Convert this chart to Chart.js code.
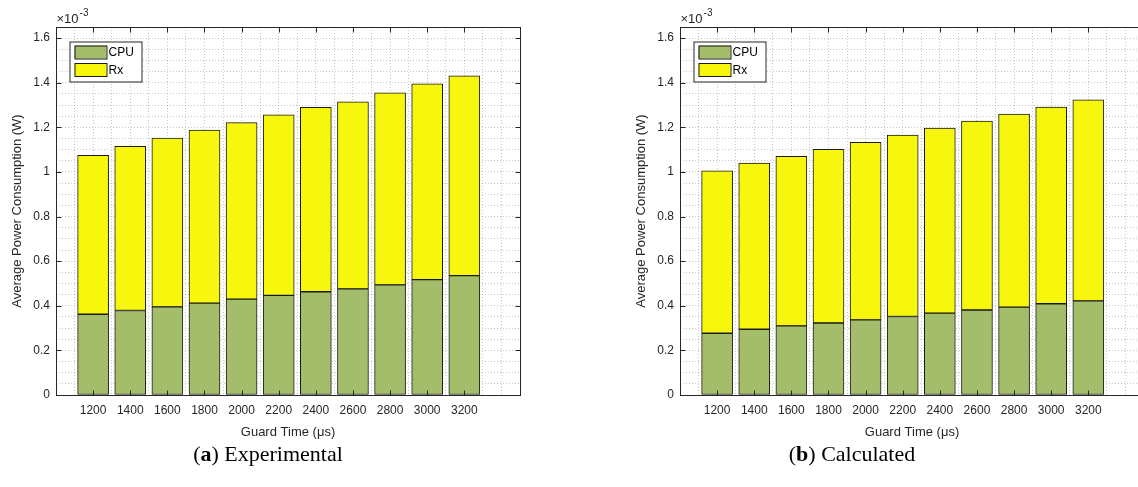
<!DOCTYPE html>
<html>
<head>
<meta charset="utf-8">
<script src="https://cdn.jsdelivr.net/npm/chart.js@4"></script>
<style>
  body { margin: 0; background: #fff; width: 1138px; height: 487px; overflow: hidden; position: relative; }
  .plot { position: absolute; top: 0; }
  .caption { position: absolute; top: 441px; font-family: "Liberation Serif", "DejaVu Serif", serif; font-size: 22px; color: #000; transform: translateX(-50%); white-space: nowrap; }
</style>
</head>
<body>
<canvas id="expChart" class="plot" width="560" height="445" style="left:0px"></canvas>
<canvas id="calcChart" class="plot" width="560" height="445" style="left:624px"></canvas>
<div class="caption" style="left:268px">(<b>a</b>) Experimental</div>
<div class="caption" style="left:852px">(<b>b</b>) Calculated</div>
<script>
// guard times (x categories)
const guardTimes = ['1200', '1400', '1600', '1800', '2000', '2200', '2400', '2600', '2800', '3000', '3200'];

// values in units of 1e-3 W
const cpuExperimental = [0.362, 0.379, 0.395, 0.412, 0.430, 0.447, 0.463, 0.476, 0.494, 0.517, 0.535];
const rxExperimental  = [0.713, 0.736, 0.757, 0.776, 0.791, 0.809, 0.827, 0.839, 0.861, 0.878, 0.896];
const cpuCalculated   = [0.277, 0.295, 0.310, 0.323, 0.337, 0.352, 0.367, 0.381, 0.394, 0.409, 0.422];
const rxCalculated    = [0.728, 0.745, 0.760, 0.778, 0.796, 0.813, 0.830, 0.847, 0.866, 0.882, 0.901];

const seriesNames = ['CPU', 'Rx'];
const yMajorStep = 0.2;

const axisColor = '#262626';
const gridColor = 'rgba(0,0,0,0.22)';
const sans = '"Liberation Sans", Arial, Helvetica, sans-serif';

function isMajorY(v) {
  return Math.abs(v / yMajorStep - Math.round(v / yMajorStep)) < 1e-6;
}
function isCategoryX(v) {
  return Number.isInteger(v) && v >= 1 && v <= guardTimes.length;
}

// MATLAB-style box, inward ticks, exponent label and framed legend
const matlabFrame = {
  id: 'matlabFrame',
  afterDatasetsDraw(chart) {
    const { ctx, chartArea: a, scales } = chart;
    const L = Math.round(a.left) + 0.5, R = Math.round(a.right) + 0.5;
    const T = Math.round(a.top) + 0.5, B = Math.round(a.bottom) + 0.5;
    ctx.save();
    ctx.strokeStyle = axisColor;
    ctx.lineWidth = 1;
    ctx.beginPath();
    scales.x.ticks.forEach(t => {
      if (!isCategoryX(t.value)) return;
      const px = Math.round(scales.x.getPixelForValue(t.value)) + 0.5;
      ctx.moveTo(px, T); ctx.lineTo(px, T + 5);
      ctx.moveTo(px, B); ctx.lineTo(px, B - 5);
    });
    scales.y.ticks.forEach(t => {
      if (!isMajorY(t.value)) return;
      const py = Math.round(scales.y.getPixelForValue(t.value)) + 0.5;
      ctx.moveTo(L, py); ctx.lineTo(L + 5, py);
      ctx.moveTo(R, py); ctx.lineTo(R - 5, py);
    });
    ctx.stroke();
    ctx.strokeRect(L, T, R - L, B - T);

    // exponent
    ctx.fillStyle = axisColor;
    ctx.textBaseline = 'alphabetic';
    ctx.font = '13px ' + sans;
    ctx.fillText('\u00d710', L, T - 5);
    const w = ctx.measureText('\u00d710').width;
    ctx.font = '10px ' + sans;
    ctx.fillText('-3', L + w + 1, T - 12);

    // legend
    const lx = L + 13, ly = T + 14;
    ctx.fillStyle = '#fff';
    ctx.fillRect(lx, ly, 72, 40);
    ctx.strokeStyle = axisColor;
    ctx.strokeRect(lx + 0.5, ly + 0.5, 72, 40);
    chart.data.datasets.forEach((ds, i) => {
      const sy = ly + 4 + i * 17.5;
      ctx.fillStyle = ds.backgroundColor;
      ctx.fillRect(lx + 5, sy, 32, 13);
      ctx.strokeStyle = ds.borderColor;
      ctx.strokeRect(lx + 5.5, sy + 0.5, 32, 13);
      ctx.fillStyle = '#000';
      ctx.font = '12px ' + sans;
      ctx.textBaseline = 'middle';
      ctx.fillText(ds.label, lx + 39, sy + 7.5);
    });
    ctx.restore();
  }
};

function makeChart(id, cpu, rx) {
  const toPoints = vals => vals.map((v, i) => ({ x: i + 1, y: v }));
  return new Chart(document.getElementById(id), {
    type: 'bar',
    data: {
      datasets: [
        { label: seriesNames[0], data: toPoints(cpu), backgroundColor: '#a4bd6a', borderColor: '#1a1a1a', borderWidth: 1, borderSkipped: false },
        { label: seriesNames[1], data: toPoints(rx), backgroundColor: '#f7f70e', borderColor: '#1a1a1a', borderWidth: 1, borderSkipped: false }
      ]
    },
    options: {
      responsive: false,
      animation: false,
      layout: { padding: { top: 27, right: 40, left: 0, bottom: 0 } },
      datasets: { bar: { barThickness: 31 } },
      plugins: { legend: { display: false }, tooltip: { enabled: false } },
      scales: {
        x: {
          type: 'linear', stacked: true, min: 0, max: 12.5, offset: false,
          afterFit: s => { s.height = 50; },
          ticks: {
            stepSize: 0.5, autoSkip: false, maxRotation: 0, padding: 8, maxTicksLimit: 100,
            color: axisColor, font: { family: sans, size: 12 },
            callback: v => isCategoryX(v) ? guardTimes[v - 1] : ''
          },
          grid: { color: gridColor, drawTicks: false, offset: false },
          border: { display: false, dash: [1, 2] },
          title: { display: true, text: 'Guard Time (\u03bcs)', color: axisColor, font: { family: sans, size: 13 }, padding: { top: 0, bottom: 5 } }
        },
        y: {
          stacked: true, min: 0, max: 1.65,
          afterFit: s => { s.width = 56; },
          ticks: {
            stepSize: 0.05, autoSkip: false, padding: 6, maxTicksLimit: 100,
            color: axisColor, font: { family: sans, size: 12 },
            callback: v => isMajorY(v) ? String(Number(v.toFixed(2))) : ''
          },
          grid: { color: gridColor, drawTicks: false },
          border: { display: false, dash: [1, 2] },
          title: { display: true, text: 'Average Power Consumption (W)', color: axisColor, font: { family: sans, size: 13 }, padding: { top: 10, bottom: 0 } }
        }
      }
    },
    plugins: [matlabFrame]
  });
}

makeChart('expChart', cpuExperimental, rxExperimental);
makeChart('calcChart', cpuCalculated, rxCalculated);
</script>
</body>
</html>
